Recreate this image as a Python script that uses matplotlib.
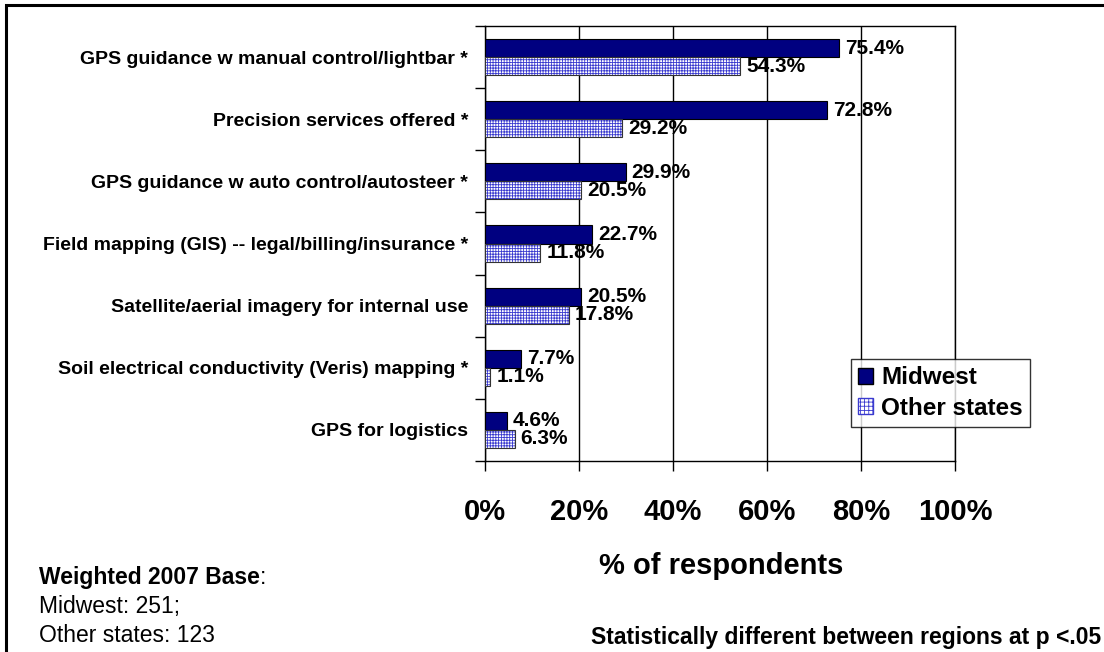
import numpy as np
import matplotlib
matplotlib.use("Agg")
import matplotlib.pyplot as plt
from matplotlib.patches import Rectangle

plt.rcParams['font.family'] = ['Liberation Sans', 'DejaVu Sans']
plt.rcParams['hatch.linewidth'] = 0.6

categories = [
    "GPS guidance w manual control/lightbar *",
    "Precision services offered *",
    "GPS guidance w auto control/autosteer *",
    "Field mapping (GIS) -- legal/billing/insurance *",
    "Satellite/aerial imagery for internal use",
    "Soil electrical conductivity (Veris) mapping *",
    "GPS for logistics",
]
midwest = [75.4, 72.8, 29.9, 22.7, 20.5, 7.7, 4.6]
other_states = [54.3, 29.2, 20.5, 11.8, 17.8, 1.1, 6.3]
x_ticks = [0, 20, 40, 60, 80, 100]

navy = '#000080'
hatch_blue = '#3a3acf'

W, H = 1104, 652
fig = plt.figure(figsize=(W / 100, H / 100), dpi=100)
ax = fig.add_axes([485 / W, 1 - 461 / H, 470 / W, 435 / H])

y = np.arange(len(categories))
h = 0.29

ax.barh(y - h / 2, midwest, height=h, color=navy, edgecolor='black', linewidth=0.8, zorder=3)
# hatched fill first, then a plain dark outline on top
ax.barh(y + h / 2, other_states, height=h, color='white', edgecolor=hatch_blue,
        hatch='++++++', linewidth=0, zorder=3)
ax.barh(y + h / 2, other_states, height=h, color='none', edgecolor='#333333',
        linewidth=0.8, zorder=4)

for yi, v in zip(y, midwest):
    ax.text(v + 1.3, yi - h / 2, f"{v}%", va='center', ha='left',
            fontsize=15, fontweight='bold', zorder=5)
for yi, v in zip(y, other_states):
    ax.text(v + 1.3, yi + h / 2, f"{v}%", va='center', ha='left',
            fontsize=15, fontweight='bold', zorder=5)

ax.set_xlim(0, 100)
ax.set_ylim(len(categories) - 0.5, -0.5)
ax.set_xticks(x_ticks)
ax.set_xticklabels([f"{t}%" for t in x_ticks], fontsize=21, fontweight='bold')
ax.tick_params(axis='x', length=7, width=1, pad=20, direction='out')
ax.xaxis.grid(True, color='black', linewidth=1, zorder=0)

# category boundary ticks, labels at centres
ax.set_yticks(np.arange(len(categories) + 1) - 0.5)
ax.set_yticklabels([])
ax.tick_params(axis='y', which='major', length=7, width=1, direction='out')
ax.set_yticks(y, minor=True)
ax.set_yticklabels(categories, minor=True, fontsize=14, fontweight='bold')
ax.tick_params(axis='y', which='minor', length=0, pad=12)

for s in ax.spines.values():
    s.set_color('black')
    s.set_linewidth(1)

fig.text(721 / W, 1 - 574 / H, "% of respondents", fontsize=21, fontweight='bold',
         ha='center', va='baseline')

leg_handles = [Rectangle((0, 0), 1, 1, facecolor=navy, edgecolor='black'),
               Rectangle((0, 0), 1, 1, facecolor='white', edgecolor=hatch_blue, hatch='++++')]
leg = fig.legend(leg_handles, ["Midwest", "Other states"], loc='lower left',
                 bbox_to_anchor=(851 / W, 1 - 427 / H), frameon=True, fancybox=False,
                 prop={'size': 17.5, 'weight': 'bold'}, handlelength=0.62, handleheight=0.62,
                 handletextpad=0.33, borderpad=0.3, borderaxespad=0, labelspacing=0.3)
leg.get_frame().set_edgecolor('black')
leg.get_frame().set_linewidth(1)

base_fs = 16.5
t = fig.text(39 / W, 1 - 584 / H, "Weighted 2007 Base", fontsize=base_fs, fontweight='bold',
             va='baseline')
fig.canvas.draw()
bb = t.get_window_extent()
fig.text(bb.x1 / W, 1 - 584 / H, ":", fontsize=base_fs, va='baseline')
fig.text(39 / W, 1 - 613 / H, "Midwest: 251;", fontsize=base_fs, va='baseline')
fig.text(39 / W, 1 - 642 / H, "Other states: 123", fontsize=base_fs, va='baseline')
fig.text(1101 / W, 1 - 644 / H, "Statistically different between regions at p <.05",
         fontsize=base_fs, fontweight='bold', ha='right', va='baseline')

# outer frame
fig.add_artist(Rectangle((6 / W, -0.01), 1.02, 1 - 5 / H + 0.01, transform=fig.transFigure,
                         fill=False, edgecolor='black', linewidth=2.2))

fig.savefig("out.png", dpi=100)
